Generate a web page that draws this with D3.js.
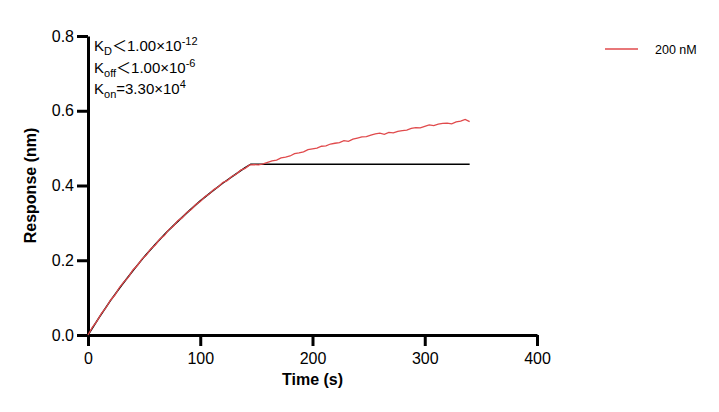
<!DOCTYPE html>
<html>
<head>
<meta charset="utf-8">
<script src="https://cdn.jsdelivr.net/npm/d3@7"></script>
<style>
  body { margin: 0; background: #fff; }
  svg { display: block; font-family: "Liberation Sans", Arial, sans-serif; }
</style>
</head>
<body>
<svg id="chart" width="719" height="412"></svg>
<script>
// measured response (200 nM), one sample every 4 s from t = 0
const sampleStep = 4;
const response200 = [
  0.000, 0.021, 0.037, 0.058, 0.073, 0.093, 0.107, 0.127, 0.142, 0.155,
  0.174, 0.186, 0.203, 0.214, 0.231, 0.241, 0.257, 0.266, 0.282, 0.291,
  0.306, 0.314, 0.328, 0.336, 0.349, 0.357, 0.370, 0.377, 0.389, 0.396,
  0.408, 0.413, 0.424, 0.430, 0.441, 0.446, 0.455, 0.456, 0.455, 0.458,
  0.462, 0.466, 0.468, 0.474, 0.476, 0.479, 0.485, 0.487, 0.490, 0.496,
  0.498, 0.500, 0.505, 0.506, 0.511, 0.513, 0.515, 0.520, 0.518, 0.524,
  0.527, 0.530, 0.531, 0.535, 0.538, 0.540, 0.537, 0.542, 0.541, 0.545,
  0.547, 0.548, 0.553, 0.555, 0.554, 0.558, 0.562, 0.560, 0.564, 0.566,
  0.567, 0.565, 0.570, 0.572, 0.577, 0.571
];

// global fit curve
const fitTime = [0, 10, 20, 30, 40, 50, 60, 70, 80, 90, 100, 110, 120, 130, 140, 145, 340];
const fitValue = [0, 0.047, 0.092, 0.133, 0.172, 0.209, 0.243, 0.275, 0.304, 0.332,
  0.359, 0.383, 0.406, 0.427, 0.448, 0.457, 0.457];

const xTicks = [0, 100, 200, 300, 400];
const yTicks = [0.0, 0.2, 0.4, 0.6, 0.8];
const seriesName = "200 nM";

const svg = d3.select("#chart");
const margin = { top: 36, right: 182, bottom: 77, left: 88 };
const width = 719 - margin.left - margin.right;
const height = 412 - margin.top - margin.bottom;

const g = svg.append("g")
    .attr("transform", `translate(${margin.left},${margin.top})`);

const x = d3.scaleLinear().domain([0, 400]).range([0, width]);
const y = d3.scaleLinear().domain([0, 0.8]).range([height, 0]);

// axes
const xAxis = g.append("g")
    .attr("transform", `translate(0,${height})`)
    .call(d3.axisBottom(x).tickValues(xTicks).tickFormat(d3.format("d")).tickSize(11).tickSizeOuter(0));
const yAxis = g.append("g")
    .call(d3.axisLeft(y).tickValues(yTicks).tickFormat(d3.format(".1f")).tickSize(11).tickSizeOuter(0));

[xAxis, yAxis].forEach(a => {
    a.select(".domain").attr("stroke", "#000").attr("stroke-width", 3);
    a.selectAll(".tick line").attr("stroke", "#000").attr("stroke-width", 3);
    a.selectAll(".tick text")
        .attr("fill", "#000")
        .style("font-size", "16px")
        .style("font-family", "'Liberation Sans', Arial, sans-serif");
});
xAxis.selectAll(".tick text").attr("dy", "0.95em");
yAxis.selectAll(".tick text").attr("x", -14);

// axis titles
g.append("text")
    .attr("x", width / 2)
    .attr("y", height + 50)
    .attr("text-anchor", "middle")
    .style("font-size", "16px")
    .style("font-weight", "bold")
    .text("Time (s)");

g.append("text")
    .attr("transform", `translate(${-52},${height / 2}) rotate(-90)`)
    .attr("text-anchor", "middle")
    .style("font-size", "16px")
    .style("font-weight", "bold")
    .text("Response (nm)");

// data lines: fit underneath, measured curve on top
const line = d3.line().x(d => x(d[0])).y(d => y(d[1]));

g.append("path")
    .datum(fitTime.map((t, i) => [t, fitValue[i]]))
    .attr("fill", "none")
    .attr("stroke", "#000")
    .attr("stroke-width", 1.5)
    .attr("d", line);

g.append("path")
    .datum(response200.map((v, i) => [i * sampleStep, v]))
    .attr("fill", "none")
    .attr("stroke", "#e04a4c")
    .attr("stroke-width", 1.3)
    .attr("d", line);

// kinetic constants
const notes = [
    { k: "K", sub: "D", rel: "＜", mant: "1.00×10", exp: "-12" },
    { k: "K", sub: "off", rel: "＜", mant: "1.00×10", exp: "-6" },
    { k: "K", sub: "on", rel: "=", mant: "3.30×10", exp: "4" }
];
notes.forEach((n, i) => {
    const t = g.append("text")
        .attr("x", 6)
        .attr("y", 15 + i * 21.5)
        .style("font-size", "15px");
    t.append("tspan").text(n.k);
    t.append("tspan").attr("dy", 4).style("font-size", "11px").text(n.sub);
    t.append("tspan").attr("dy", -4)
        .style("font-family", n.rel === "=" ? null : "'Noto Sans CJK SC', sans-serif")
        .text(n.rel);
    t.append("tspan").text(n.mant);
    t.append("tspan").attr("dy", -6).style("font-size", "11px").text(n.exp);
});

// legend
const legend = svg.append("g").attr("transform", "translate(605,49)");
legend.append("line")
    .attr("x1", 0).attr("x2", 33)
    .attr("stroke", "#e04a4c").attr("stroke-width", 1.5);
legend.append("text")
    .attr("x", 50).attr("y", 4.5)
    .style("font-size", "12.5px")
    .text(seriesName);
</script>
</body>
</html>
